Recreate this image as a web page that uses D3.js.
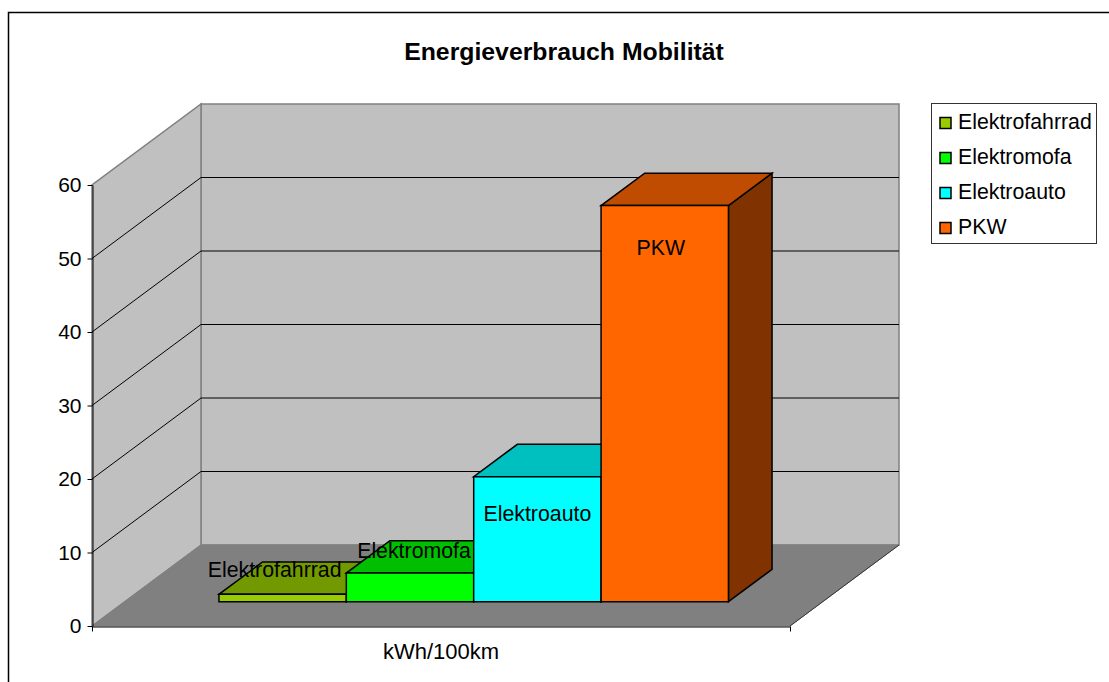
<!DOCTYPE html>
<html><head><meta charset="utf-8">
<script src="https://cdn.jsdelivr.net/npm/d3@7/dist/d3.min.js"></script>
<style>html,body{margin:0;padding:0;background:#fff;overflow:hidden}svg{display:block}text{font-family:"Liberation Sans",Arial,sans-serif;fill:#000}</style>
</head><body><div id="c"></div>
<script>
const categories = ["Elektrofahrrad","Elektromofa","Elektroauto","PKW"];
const values = [1, 3.9, 17, 53.9];
const fronts = ["#99CC00","#00FF00","#00FFFF","#FF6600"];
const tops = ["#739900","#00BF00","#00BFBF","#BF4C00"];
const sides = ["#4D6600","#008000","#008080","#803300"];
const yTicks = [0,10,20,30,40,50,60];
const labelDx = [-8,4,0,-4];
const labelDy = [-25,-22,37,42];
const title = "Energieverbrauch Mobilität";
const axisLabel = "kWh/100km";

const W=1109,H=682;
const svg=d3.select("#c").append("svg").attr("width",W).attr("height",H);
const x0=92,x1=790,y0=626,y60=185,DX=109,DY=81;
const y=d3.scaleLinear().domain([0,60]).range([y0,y60]);
const xBand=d3.scaleBand().domain(categories).range([x0,x1]).paddingInner(0).paddingOuter(0.74);
const pt=(px,v,d)=>[px+DX*d,y(v)-DY*d];
const poly=(pts,fill,stroke,sw)=>svg.append("path").attr("d",d3.line()(pts)+"Z").attr("fill",fill).attr("stroke",stroke).attr("stroke-width",sw).attr("stroke-linejoin","miter");

// chart border
svg.append("rect").attr("x",8.5).attr("y",12.5).attr("width",W+20).attr("height",H+20).attr("fill","#fff").attr("stroke","#000").attr("stroke-width",1.5);

// walls and floor
poly([pt(x0,0,1),pt(x1,0,1),pt(x1,60,1),pt(x0,60,1)],"#C0C0C0","#808080",1.5);
poly([pt(x0,0,0),pt(x0,0,1),pt(x0,60,1),pt(x0,60,0)],"#C0C0C0","#808080",1.5);
poly([pt(x0,0,0),pt(x1,0,0),pt(x1,0,1),pt(x0,0,1)],"#808080","#808080",1);

// gridlines
yTicks.filter(t=>t>0&&t<60).forEach(t=>{
  svg.append("path").attr("d",d3.line()([pt(x0,t,0),pt(x0,t,1),pt(x1,t,1)])).attr("fill","none").attr("stroke","#000").attr("stroke-width",1);
});

// axes
const ay=svg.append("g").attr("transform",`translate(${x0+.5},0)`).call(d3.axisLeft(y).tickValues(yTicks).tickSize(5).tickPadding(6).tickSizeOuter(0));
ay.selectAll("text").attr("font-size",21).style("font-family",'"Liberation Sans"');
ay.selectAll("line,path").attr("stroke","#000");
const ax=d3.scaleLinear().domain([0,1]).range([x0,x1]);
const agx=svg.append("g").attr("transform",`translate(0,${y0+.5})`).call(d3.axisBottom(ax).tickValues([0,1]).tickSize(5).tickSizeOuter(0).tickFormat(""));
agx.selectAll("line,path").attr("stroke","#000");
svg.append("path").attr("d",d3.line()([pt(x1,0,0),pt(x1,0,1)])).attr("stroke","#333").attr("stroke-width",1);

// bars
const d0=0.3,d1=0.7;
categories.forEach((c,i)=>{
  const l=xBand(c),r=l+xBand.bandwidth(),v=values[i];
  poly([pt(r,0,d0),pt(r,0,d1),pt(r,v,d1),pt(r,v,d0)],sides[i],"#000",1.5);
  poly([pt(l,v,d0),pt(r,v,d0),pt(r,v,d1),pt(l,v,d1)],tops[i],"#000",1.5);
  poly([pt(l,0,d0),pt(r,0,d0),pt(r,v,d0),pt(l,v,d0)],fronts[i],"#000",1.5);
});
// labels
categories.forEach((c,i)=>{
  const l=xBand(c),b=xBand.bandwidth(),p=pt(l+b/2,values[i],d0);
  svg.append("text").attr("x",p[0]+labelDx[i]).attr("y",p[1]+labelDy[i]).attr("dy","0.35em").attr("text-anchor","middle").attr("font-size",21.3).text(c);
});

svg.append("text").attr("x",564).attr("y",51.5).attr("dy","0.35em").attr("text-anchor","middle").attr("font-size",24.8).attr("font-weight","bold").text(title);
svg.append("text").attr("x",441).attr("y",651).attr("dy","0.35em").attr("text-anchor","middle").attr("font-size",22).text(axisLabel);

// legend
const lg=svg.append("g");
lg.append("rect").attr("x",931.5).attr("y",103.5).attr("width",165).attr("height",140).attr("fill","#fff").attr("stroke","#333").attr("stroke-width",1);
categories.forEach((c,i)=>{
  const cy=123+i*35;
  lg.append("rect").attr("x",940).attr("y",cy-5.5).attr("width",11).attr("height",11).attr("fill",fronts[i]).attr("stroke","#000").attr("stroke-width",1.5);
  lg.append("text").attr("x",958).attr("y",cy-1).attr("dy","0.35em").attr("font-size",21.3).text(c);
});
</script></body></html>
